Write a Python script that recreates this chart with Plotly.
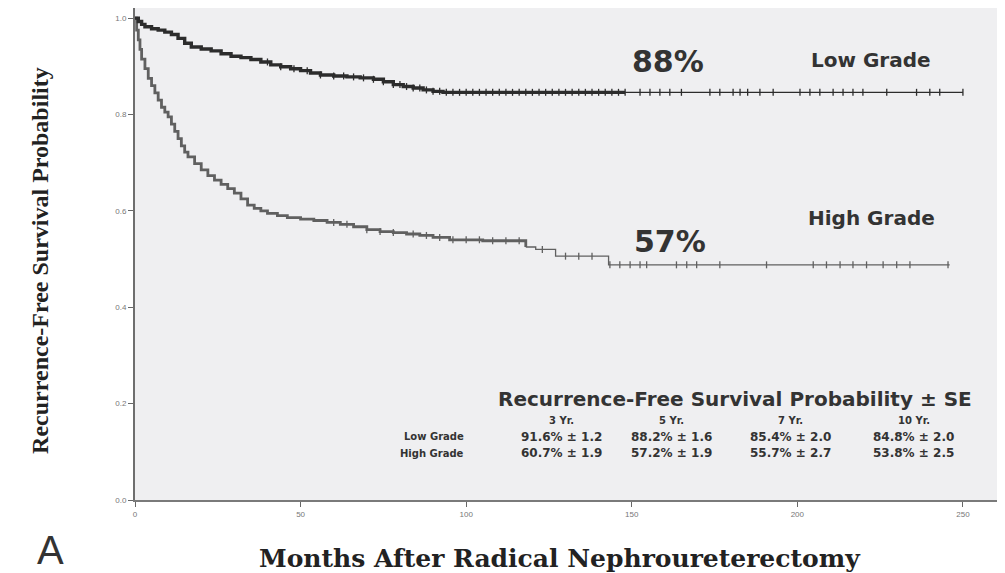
import plotly.graph_objects as go

# ---- data ----
low_t = [0, 1, 2, 3, 5, 7, 9, 11, 13, 15, 17, 20, 23, 26, 29, 32, 35, 38, 41, 44, 47, 50, 53, 56,
         60, 64, 68, 72, 75, 78, 81, 84, 87, 90, 93, 250]
low_s = [1.0, 0.993, 0.987, 0.982, 0.978, 0.975, 0.971, 0.966, 0.958, 0.948, 0.94, 0.936, 0.932,
         0.926, 0.921, 0.918, 0.914, 0.909, 0.903, 0.899, 0.895, 0.891, 0.886, 0.882, 0.88, 0.878,
         0.876, 0.873, 0.868, 0.862, 0.858, 0.855, 0.851, 0.848, 0.846, 0.846]

high_t = [0, 0.5, 1, 1.5, 2, 3, 4, 5, 6, 7, 8, 9, 10, 11, 12, 13, 14, 15, 16, 18, 20, 22, 24, 26,
          28, 30, 32, 34, 36, 38, 40, 43, 46, 50, 54, 58, 62, 66, 70, 74, 78, 82, 86, 90, 95, 105,
          118, 121, 127, 143, 246]
high_s = [1.0, 0.975, 0.955, 0.935, 0.915, 0.895, 0.875, 0.86, 0.845, 0.83, 0.815, 0.805, 0.795,
          0.78, 0.765, 0.75, 0.735, 0.722, 0.712, 0.698, 0.685, 0.673, 0.664, 0.655, 0.646, 0.637,
          0.625, 0.612, 0.605, 0.6, 0.595, 0.59, 0.586, 0.583, 0.58, 0.576, 0.572, 0.567, 0.561,
          0.557, 0.555, 0.552, 0.549, 0.545, 0.54, 0.538, 0.525, 0.52, 0.506, 0.488, 0.488]

low_censor = [40, 44, 48, 52, 56, 60, 63, 66, 69, 72, 75, 78, 80, 82, 84, 86, 88, 90, 92, 94, 96,
              98, 100, 102, 104, 106, 108, 110, 112, 114, 116, 118, 120, 122, 124, 126, 128, 130,
              132, 134, 136, 138, 140, 142, 144, 146, 148, 152.5, 155.5, 158.5, 161.5, 165, 173.6,
              176.6, 180.6, 182.7, 185, 188.7, 192.7, 200.8, 203.8, 206.8, 210.8, 213.8, 216.8,
              219.8, 227, 236, 240, 243, 250]
high_censor = [60, 64, 70, 74, 78, 84, 88, 92, 96, 100, 104, 108, 112, 116, 123, 130, 134, 138,
               143.4, 146.4, 149.5, 152.5, 154.5, 163.5, 166.6, 169.6, 176.6, 190.7, 204.8, 208.8,
               212.9, 216.8, 220.9, 225.9, 230, 234, 245.5]

# where the drawn line becomes thin (heavier early part in the scanned figure)
low_split = 148
high_split = 118

x_ticks = [0, 50, 100, 150, 200, 250]
y_ticks = [0.0, 0.2, 0.4, 0.6, 0.8, 1.0]
y_tick_labels = ["0.0", "0.2", "0.4", "0.6", "0.8", "1.0"]

table_title = "Recurrence-Free Survival Probability \u00b1 SE"
table_cols = ["3 Yr.", "5 Yr.", "7 Yr.", "10 Yr."]
table_rows = ["Low Grade", "High Grade"]
table_vals = [["91.6% \u00b1 1.2", "88.2% \u00b1 1.6", "85.4% \u00b1 2.0", "84.8% \u00b1 2.0"],
              ["60.7% \u00b1 1.9", "57.2% \u00b1 1.9", "55.7% \u00b1 2.7", "53.8% \u00b1 2.5"]]


def step_value(ts, ss, t):
    v = ss[0]
    for ti, si in zip(ts, ss):
        if ti <= t:
            v = si
    return v


def split_curve(ts, ss, cut):
    head_t = [t for t in ts if t < cut] + [cut]
    head_s = [s for t, s in zip(ts, ss) if t < cut] + [step_value(ts, ss, cut)]
    tail_t = [cut] + [t for t in ts if t > cut]
    tail_s = [step_value(ts, ss, cut)] + [s for t, s in zip(ts, ss) if t > cut]
    return head_t, head_s, tail_t, tail_s


fig = go.Figure()


def add_group(ts, ss, cut, censor, color, w_head, w_tail, msize):
    ht, hs, tt, tsv = split_curve(ts, ss, cut)
    fig.add_trace(go.Scatter(x=tt, y=tsv, mode="lines", line=dict(shape="hv", color=color, width=w_tail),
                             showlegend=False, hoverinfo="skip"))
    fig.add_trace(go.Scatter(x=ht, y=hs, mode="lines", line=dict(shape="hv", color=color, width=w_head),
                             showlegend=False, hoverinfo="skip"))
    fig.add_trace(go.Scatter(x=censor, y=[step_value(ts, ss, t) for t in censor], mode="markers",
                             marker=dict(symbol="line-ns-open", size=msize, color=color,
                                         line=dict(color=color, width=1.3)),
                             showlegend=False, hoverinfo="skip"))


add_group(high_t, high_s, high_split, high_censor, "#606060", 2.8, 1.3, 5)
add_group(low_t, low_s, low_split, low_censor, "#2c2c2c", 3.4, 1.4, 5)

ann = []
sans = dict(family="DejaVu Sans", color="#333333")
ann.append(dict(x=161, y=0.911, xref="x", yref="y", text="<b>88%</b>", showarrow=False,
                font=dict(size=30, **sans)))
ann.append(dict(x=161.5, y=0.537, xref="x", yref="y", text="<b>57%</b>", showarrow=False,
                font=dict(size=30, **sans)))
ann.append(dict(x=222.2, y=0.913, xref="x", yref="y", text="<b>Low Grade</b>", showarrow=False,
                font=dict(size=20, **sans)))
ann.append(dict(x=222.5, y=0.585, xref="x", yref="y", text="<b>High Grade</b>", showarrow=False,
                font=dict(size=20, **sans)))
ann.append(dict(x=181.2, y=0.2095, xref="x", yref="y", text="<b>" + table_title + "</b>", showarrow=False,
                font=dict(size=20, **sans)))
col_x = [128.9, 162.1, 197.8, 235.2]
row_y = [0.131, 0.0975]
for cx, c in zip(col_x, table_cols):
    ann.append(dict(x=cx, y=0.166, xref="x", yref="y", text="<b>" + c + "</b>", showarrow=False,
                    font=dict(size=10, **sans)))
for ry, r, vals in zip(row_y, table_rows, table_vals):
    ann.append(dict(x=99.9, y=ry, xref="x", yref="y", text="<b>" + r + "</b>", showarrow=False,
                    xanchor="right", font=dict(size=10, **sans)))
    for cx, v in zip(col_x, vals):
        ann.append(dict(x=cx, y=ry, xref="x", yref="y", text="<b>" + v + "</b>", showarrow=False,
                        font=dict(size=12, **sans)))

ann.append(dict(x=0.49, y=-0.118, xref="paper", yref="paper", xanchor="center", yanchor="middle",
                text="<b>Months After Radical Nephroureterectomy</b>",
                showarrow=False, font=dict(size=25, family="DejaVu Serif", color="#222222")))
ann.append(dict(x=-0.1096, y=0.488, xref="paper", yref="paper", xanchor="center", yanchor="middle",
                text="<b>Recurrence-Free Survival Probability</b>",
                showarrow=False, textangle=-90,
                font=dict(size=24, family="Liberation Serif, Times New Roman", color="#222222")))
ann.append(dict(x=-0.098, y=-0.1016, xref="paper", yref="paper", xanchor="center", yanchor="middle",
                text="A", showarrow=False,
                font=dict(size=40, family="Liberation Sans, Arial", color="#333333")))

fig.update_layout(
    width=997, height=565,
    margin=dict(l=127, r=3, t=0, b=73),
    paper_bgcolor="white", plot_bgcolor="#efeff1",
    annotations=ann,
    showlegend=False,
)
fig.update_xaxes(range=[0, 261.8], tickvals=x_ticks, ticks="outside", ticklen=5, tickcolor="#666666",
                 tickfont=dict(size=8, color="#777777", family="Liberation Sans, Arial"),
                 showline=True, linecolor="#7a7a7a", linewidth=2, showgrid=False, zeroline=False)
fig.update_yaxes(range=[0, 1.021], tickvals=y_ticks, ticktext=y_tick_labels, ticks="outside", ticklen=5,
                 tickcolor="#666666", tickfont=dict(size=8, color="#777777", family="Liberation Sans, Arial"),
                 showline=True, linecolor="#6e6e6e", linewidth=2, mirror=True, showgrid=False, zeroline=False)

fig.write_html("out.html")
